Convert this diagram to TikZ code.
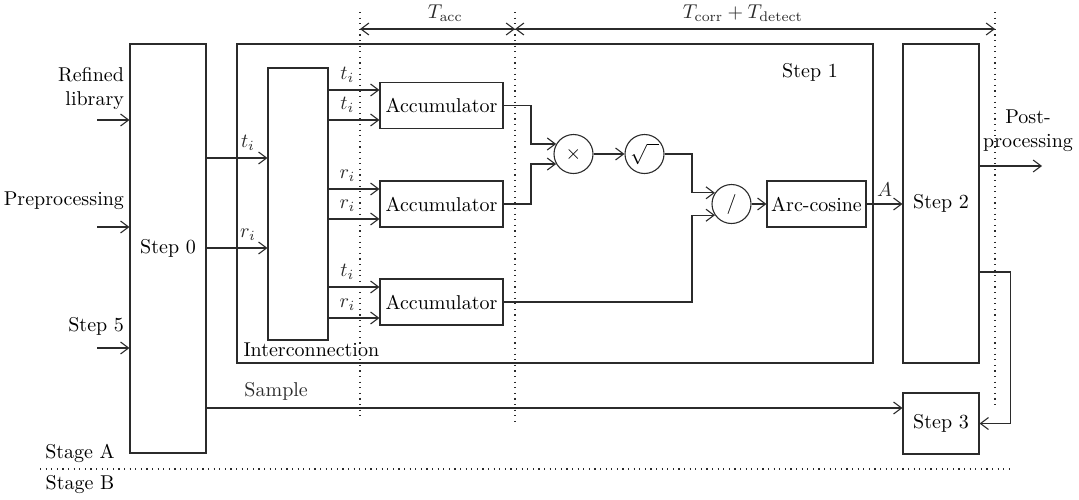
\documentclass[tikz,border=0pt]{standalone}
\usepackage{tikz}
\usetikzlibrary{arrows.meta,positioning,calc}
\definecolor{trait}{HTML}{2B2B2B}
\tikzset{
  blk/.style={draw=trait,line width=0.55pt,inner sep=0pt,align=center},
  op/.style={draw=trait,circle,line width=0.55pt,inner sep=0pt,minimum size=19.5pt},
  flow/.style={-{Straight Barb[length=4pt,width=6pt]},line width=0.55pt,color=trait},
  span/.style={{Straight Barb[length=4pt,width=6pt]}-{Straight Barb[length=4pt,width=6pt]},line width=0.55pt,color=trait},
  dots/.style={color=trait,line width=0.6pt,dash pattern=on 0.6pt off 2.2pt},
}

\begin{document}
\begin{tikzpicture}[x=0.5pt,y=-0.5pt]
  \useasboundingbox (0,0) rectangle (1079,499);
  % blocks
  \node[blk,minimum width=38pt,minimum height=204.5pt] (step0) at (168,248.5) {Step 0};
  \node[blk,minimum width=318pt,minimum height=159.5pt] (step1) at (555,203.5) {};
  \node (step1lbl) at (810,72) {Step 1};
  \node[blk,minimum width=30pt,minimum height=136pt] (ic) at (298,204) {};
  \node[anchor=west] (iclbl) at (step1.west |- 0,350) {Interconnection};
  \node[blk,minimum width=61.5pt,minimum height=23pt] (acc1) at (441.5,105.5) {Accumulator};
  \node[blk,minimum width=61.5pt,minimum height=23pt] (acc2) at (441.5,204) {Accumulator};
  \node[blk,minimum width=61.5pt,minimum height=23pt] (acc3) at (441.5,302) {Accumulator};
  \node[op] (mult) at (573.5,154) {$\times$};
  \node[op] (root) at (644.5,154) {$\sqrt{\phantom{x}}$};
  \node[op] (divd) at (731.5,204) {/};
  \node[blk,minimum width=49.5pt,minimum height=23pt] (arccos) at (816.5,204) {Arc-cosine};
  \node[blk,minimum width=38pt,minimum height=159.5pt] (step2) at (941,203.5) {Step 2};
  \node[blk,minimum width=38pt,minimum height=30.5pt] (step3) at (941,423.5) {Step 3};

  % inputs of step 0
  \coordinate (inlib) at (97,120);
  \coordinate (inpre) at (97,227);
  \coordinate (instep) at (97,348);
  \node[anchor=east,align=right] (liblbl) at (131,88.5) {Refined\\library};
  \node[anchor=east] (prelbl) at (131,201) {Preprocessing};
  \node[anchor=east] (steplbl) at (131,326) {Step 5};
  \draw[flow] (inlib) -- (step0.west |- inlib);
  \draw[flow] (inpre) -- (step0.west |- inpre);
  \draw[flow] (instep) -- (step0.west |- instep);

  % step 0 -> interconnection
  \draw[flow] (step0.east |- 0,158) -- (ic.west |- 0,158) node[pos=0.68,above] (tlbl) {$t_i$};
  \draw[flow] (step0.east |- 0,248) -- (ic.west |- 0,248) node[pos=0.68,above] (rlbl) {$r_i$};

  % interconnection -> accumulators
  \draw[flow] (ic.east |- 0,90) -- (acc1.west |- 0,90) node[pos=0.37,above] {$t_i$};
  \draw[flow] (ic.east |- 0,120) -- (acc1.west |- 0,120) node[pos=0.37,above] {$t_i$};
  \draw[flow] (ic.east |- 0,189) -- (acc2.west |- 0,189) node[pos=0.37,above] {$r_i$};
  \draw[flow] (ic.east |- 0,219) -- (acc2.west |- 0,219) node[pos=0.37,above] {$r_i$};
  \draw[flow] (ic.east |- 0,287) -- (acc3.west |- 0,287) node[pos=0.37,above] {$t_i$};
  \draw[flow] (ic.east |- 0,318) -- (acc3.west |- 0,318) node[pos=0.37,above] {$r_i$};

  % correlation
  \coordinate (jm) at (531,0);
  \coordinate (jd) at (692,0);
  \draw[flow] (acc1.east) -| (jm |- mult.150) -- (mult.150);
  \draw[flow] (acc2.east) -| (jm |- mult.210) -- (mult.210);
  \draw[flow] (mult) -- (root);
  \draw[flow] (root.east) -| (jd |- divd.146) -- (divd.146);
  \draw[flow] (acc3.east) -| (jd |- divd.214) -- (divd.214);
  \draw[flow] (divd) -- (arccos);
  \draw[flow] (arccos.east) -- (arccos.east -| step2.west) node[midway,above] (albl) {$A$};

  % step 2 and step 3
  \coordinate (post) at (1042,166);
  \node[align=center] (postlbl) at (1028,131) {Post-\\processing};
  \draw[flow] (step2.east |- post) -- (post);
  \draw[flow] (step2.east |- 0,272) -- ++(31,0) |- (step3.east);
  \draw[flow] (step0.east |- 0,408) -- (step3.west |- 0,408) node[pos=0.1,above] (samplbl) {Sample};

  % timing
  \coordinate (d1t) at (360,12);  \coordinate (d1b) at (360,420);
  \coordinate (d2t) at (515,12);  \coordinate (d2b) at (515,422);
  \coordinate (d3t) at (995,12);  \coordinate (d3b) at (995,407);
  \draw[dots] (d1t) -- (d1b);
  \draw[dots] (d2t) -- (d2b);
  \draw[dots] (d3t) -- (d3b);
  \draw[span] (d1t |- 0,29) -- (d2t |- 0,29) node[pos=0.55,above] (taccl) {$T_{\mathrm{acc}}$};
  \draw[span] (d2t |- 0,29) -- (d3t |- 0,29) node[pos=0.475,above] (tcorrl) {$T_{\mathrm{corr}}+T_{\mathrm{detect}}$};

  % stages
  \coordinate (sepl) at (40,469);
  \coordinate (sepr) at (1010,469);
  \draw[dots] (sepl) -- (sepr);
  \node (stagea) at (80,453) {Stage A};
  \node (stageb) at (80,484) {Stage B};
\end{tikzpicture}
\end{document}
